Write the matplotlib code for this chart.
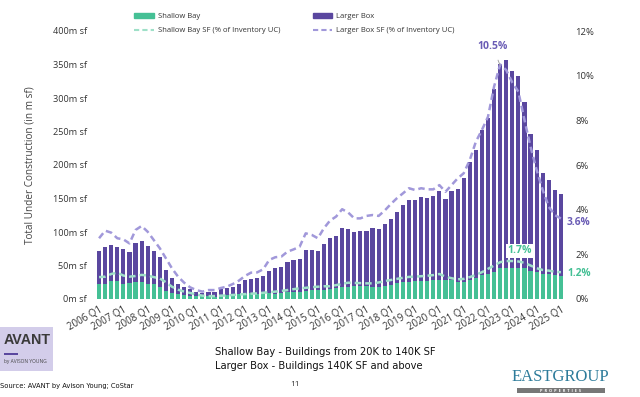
import matplotlib
matplotlib.use("Agg")
import matplotlib.pyplot as plt
from matplotlib.patches import Rectangle
from matplotlib.lines import Line2D
from matplotlib.patches import Patch
import numpy as np

plt.rcParams['font.family'] = ['Open Sans', 'DejaVu Sans']

# %% data (quarters 2006 Q1 .. 2025 Q1)
years = list(range(2006, 2026))
tick_labels = [f"{y} Q1" for y in years]

total_uc = [72, 78, 80.6, 77, 74.6, 69.7, 83, 86, 79, 71, 63, 43, 31, 22, 18, 14.5, 11, 8.5, 10,
            11, 14.5, 17, 18.5, 22, 28, 30, 31, 35, 42, 47, 48, 55, 58, 60, 73.6, 73, 71, 81.6,
            90.5, 94.5, 106, 104.5, 99.5, 101, 102, 106.5, 104.5, 111.5, 120, 130, 140, 148, 148,
            152, 151, 154, 161.6, 150,
            161.6, 164, 181, 205, 222, 252, 270.6, 314, 351, 356, 341, 333, 293.5, 246, 222,
            187.6, 177.6, 162.7, 156.7]

shallow_bay = [23, 23, 27, 27, 23, 24, 25, 25, 22, 22, 18, 12, 8.5, 7, 6, 5, 5, 4, 4,
               3.5, 4.5, 5.5, 5.5, 7, 7.5, 8.5, 7.5, 8.5, 8.5, 7.5, 8.5, 11, 11, 11, 12.5, 13.5,
               13.5, 13.5,
               15, 17, 18.4, 18.4, 20, 20, 20, 17.4, 18.4, 20, 21, 23.4, 25, 26, 27, 27.4, 27.4,
               28.4, 28.4, 28,
               29, 25, 26, 28, 32, 36, 38, 41, 46, 47, 47, 47, 46, 42, 40, 38, 37, 36, 34]

larger_box = [t - s for t, s in zip(total_uc, shallow_bay)]

larger_pct = [2.72, 3.06, 2.97, 2.72, 2.67, 2.49, 3.09, 3.27, 3.01, 2.64, 2.27, 1.82, 1.37, 1.0,
              0.73, 0.52, 0.40, 0.33, 0.40,
              0.40, 0.49, 0.55, 0.67, 0.82, 1.03, 1.18, 1.19, 1.33, 1.75, 1.87, 1.90, 2.12, 2.22,
              2.34, 2.94, 2.87, 2.72, 3.17,
              3.51, 3.69, 4.02, 3.87, 3.61, 3.61, 3.72, 3.76, 3.72, 3.96, 4.25, 4.51, 4.73, 4.96,
              4.88, 4.96, 4.91, 4.91, 5.10, 4.80,
              5.10, 5.40, 5.63, 6.22, 7.04, 7.57, 8.16, 9.51, 10.5, 10.25, 9.69, 9.28, 8.02, 6.82,
              5.78, 4.88, 4.13, 3.76, 3.60]

shallow_pct = [0.98, 1.0, 1.12, 1.18, 1.05, 1.0, 1.03, 1.08, 1.05, 0.98, 0.92, 0.75, 0.55, 0.42,
               0.33, 0.27, 0.20, 0.15, 0.13,
               0.13, 0.15, 0.16, 0.18, 0.20, 0.22, 0.24, 0.25, 0.28, 0.30, 0.33, 0.36, 0.40, 0.44,
               0.48, 0.50, 0.53, 0.55, 0.57,
               0.57, 0.62, 0.68, 0.73, 0.72, 0.71, 0.70, 0.70, 0.74, 0.80, 0.85, 0.90, 0.95, 0.99,
               1.0, 1.02, 1.04, 1.07, 1.12, 1.0,
               0.93, 0.88, 0.90, 0.98, 1.08, 1.2, 1.35, 1.5, 1.65, 1.7, 1.7, 1.68, 1.62, 1.5,
               1.38, 1.3, 1.27, 1.22, 1.2]

GREEN = '#45c095'
PURPLE = '#5a479f'
LGREEN = '#9fe0c8'
LPURPLE = '#a198da'

x = np.arange(len(total_uc))

# %% figure
fig = plt.figure(figsize=(6.4, 3.97), dpi=100)
W, H = 640, 397
ax = fig.add_axes([93 / W, 1 - 299 / H, (567 - 93) / W, (299 - 31) / H])
ax2 = ax.twinx()

ax.bar(x, shallow_bay, width=0.68, color=GREEN, linewidth=0)
ax.bar(x, larger_box, width=0.68, bottom=shallow_bay, color=PURPLE, linewidth=0)

ax2.plot(x, larger_pct, color=LPURPLE, lw=1.8, dashes=(2.6, 1.6))
ax2.plot(x, shallow_pct, color=LGREEN, lw=1.8, dashes=(2.6, 1.6))

ax.set_xlim(-1, 77)
ax.set_ylim(0, 400)
ax2.set_ylim(0, 12)
ax.set_yticks(range(0, 401, 50))
ax.set_yticklabels([f"{v}m sf" for v in range(0, 401, 50)], fontsize=6.6, color='#333333')
ax2.set_yticks(range(0, 13, 2))
ax2.set_yticklabels([f"{v}%" for v in range(0, 13, 2)], fontsize=6.8, color='#333333')
ax.set_xticks(x[::4])
ax.set_xticklabels(tick_labels, rotation=30, ha='right', rotation_mode='anchor',
                   fontsize=7, color='#333333')
ax.tick_params(length=0, pad=4.5)
ax.tick_params(axis='x', pad=4)
ax2.tick_params(length=0, pad=6)
for a in (ax, ax2):
    for s in a.spines.values():
        s.set_visible(False)
ax.set_ylabel("Total Under Construction (in m sf)", fontsize=7.2, color='#444444', labelpad=12)

# annotations
ax2.annotate('10.5%', xy=(66, 10.45), xytext=(64.8, 11.3), ha='center', va='center',
             fontsize=7.5, fontweight='bold', color='#6a5cb5',
             arrowprops=dict(arrowstyle='-', color='#999999', lw=0.6, shrinkA=4, shrinkB=0))
ax2.text(77.0, 3.42, '3.6%', fontsize=7.3, fontweight='bold', color='#6a5cb5', va='center')
ax2.text(77.0, 1.12, '1.2%', fontsize=7.3, fontweight='bold', color='#45c095', va='center')
ax2.text(69.2, 2.15, '1.7%', fontsize=7.5, fontweight='bold', color='#45c095', ha='center',
         va='center', bbox=dict(facecolor='white', edgecolor='none', pad=1.2))

# legend
handles = [Patch(color=GREEN), Line2D([], [], color=LGREEN, lw=1.5, dashes=(2.5, 1.5)),
           Patch(color=PURPLE), Line2D([], [], color=LPURPLE, lw=1.5, dashes=(2.5, 1.5))]
labels = ['Shallow Bay', 'Shallow Bay SF (% of Inventory UC)',
          'Larger Box', 'Larger Box SF (% of Inventory UC)']
leg = fig.legend(handles, labels, ncol=2, loc='upper left', bbox_to_anchor=(129 / W, 1 - 8 / H),
                 frameon=True, fontsize=5.5, handlelength=2.6, handleheight=0.55,
                 handletextpad=0.5, columnspacing=4.2, labelspacing=0.9, borderpad=0.2)
leg.get_frame().set_edgecolor('none')
leg.get_frame().set_facecolor('white')
for t in leg.get_texts():
    t.set_color('#333333')

# bottom notes
note_kw = dict(family='DejaVu Sans', stretch='condensed', va='center', color='#111111')
fig.text(215 / W, 1 - 352 / H, 'Shallow Bay - Buildings from 20K to 140K SF', fontsize=7.9, **note_kw)
fig.text(215 / W, 1 - 366 / H, 'Larger Box - Buildings 140K SF and above', fontsize=7.9, **note_kw)
fig.text(0 / W, 1 - 386 / H, 'Source: AVANT by Avison Young; CoStar', fontsize=5.4, **note_kw)
fig.text(290 / W, 1 - 385 / H, '11', fontsize=6, va='center', color='#333333')

# AVANT logo
fig.patches.append(Rectangle((0, 1 - 371 / H), 53 / W, 44 / H, transform=fig.transFigure,
                             facecolor='#d3cdea', edgecolor='none'))
fig.text(4 / W, 1 - 340 / H, 'AVANT', fontsize=10.3, family=['Liberation Sans', 'DejaVu Sans'],
         va='center', color='#3a3a3a', fontweight='bold')
fig.patches.append(Rectangle((4 / W, 1 - 355 / H), 14 / W, 2 / H, transform=fig.transFigure,
                             facecolor='#5a479f', edgecolor='none'))
fig.text(4 / W, 1 - 362 / H, 'by AVISON YOUNG', fontsize=3.5, va='center', color='#444444')

# EastGroup logo
fig.text(560 / W, 1 - 377 / H, 'EASTGROUP', fontsize=12, family=['Liberation Serif', 'DejaVu Serif'],
         ha='center', va='center', color='#2e7c9b')
fig.patches.append(Rectangle((517 / W, 1 - 393 / H), 88 / W, 5 / H, transform=fig.transFigure,
                             facecolor='#777777', edgecolor='none'))
fig.text(561 / W, 1 - 390.5 / H, 'P  R  O  P  E  R  T  I  E  S', fontsize=2.8, ha='center',
         va='center', color='white', fontweight='bold')

fig.savefig('out.png', dpi=100, facecolor='white')
